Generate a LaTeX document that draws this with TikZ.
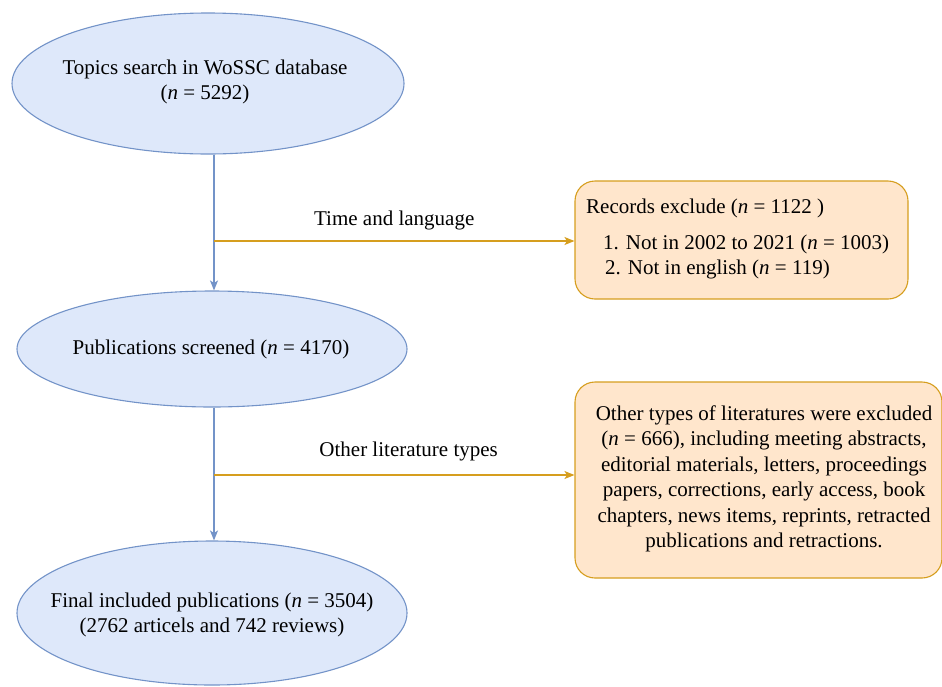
\documentclass[tikz,border=0pt]{standalone}
\usepackage{fontspec}
\setmainfont{Liberation Serif}
\usetikzlibrary{shapes.geometric,arrows.meta}
\definecolor{efill}{HTML}{DEE8FA}
\definecolor{edraw}{HTML}{7393C8}
\definecolor{bfill}{HTML}{FFE6CC}
\definecolor{bdraw}{HTML}{D69E1E}
\begin{document}
\begin{tikzpicture}[x=1pt,y=-1pt,
  oval/.style={ellipse,draw=edraw,fill=efill,line width=1.1pt,inner sep=0pt},
  txt/.style={inner sep=0pt,font=\fontsize{21}{25.5}\selectfont,align=center},
  exbox/.style={draw=bdraw,fill=bfill,line width=1.1pt,rounded corners=20pt,inner sep=0pt},
  vflow/.style={draw=edraw,line width=1.1pt,-{Stealth[length=10pt,width=8pt,inset=2.5pt]}},
  hflow/.style={draw=bdraw,line width=1.1pt,-{Stealth[length=10pt,width=8pt,inset=2.5pt]}},
  lbl/.style={inner sep=0pt,font=\fontsize{21}{25.5}\selectfont}]
\useasboundingbox (0,0) rectangle (942,686);
% ellipses
\node[oval,minimum width=392pt,minimum height=141pt] (e1) at (208,83.5) {};
\node[oval,minimum width=390pt,minimum height=116pt] (e2) at (212,349) {};
\node[oval,minimum width=390pt,minimum height=144pt] (e3) at (212,613) {};
\node[txt] (t1) at (205,82) {Topics search in WoSSC database\\(\textit{n} = 5292)};
\node[txt] (t2) at (211,349) {Publications screened (\textit{n} = 4170)};
\node[txt] (t3) at (212,615) {Final included publications (\textit{n} = 3504)\\(2762 articels and 742 reviews)};
% boxes
\node[exbox,minimum width=333pt,minimum height=118pt] (b1) at (741.5,240) {};
\node[exbox,minimum width=367pt,minimum height=196pt] (b2) at (758.5,480) {};
\node[lbl,anchor=base west] (b1a) at (586,213) {Records exclude (\textit{n} = 1122 )};
\node[lbl,anchor=base west] (b1b) at (603,249) {1. Not in 2002 to 2021 (\textit{n} = 1003)};
\node[lbl,anchor=base west] (b1c) at (605,274) {2. Not in english (\textit{n} = 119)};
\node[txt] (b2t) at (764,479) {Other types of literatures were excluded\\(\textit{n} = 666), including meeting abstracts,\\editorial materials, letters, proceedings\\ papers, corrections, early access, book\\chapters, news items, reprints, retracted\\publications and retractions.};
% connectors
\coordinate (v) at (214,0);
\draw[vflow] (e1.south -| v) -- (e2.north -| v);
\draw[vflow] (e2.south -| v) -- (e3.north -| v);
\coordinate (h1) at (214,241);
\coordinate (h2) at (214,475);
\draw[hflow] (h1) -- (h1 -| b1.west) node[lbl,midway,above=10pt] (l1) {Time and language};
\draw[hflow] (h2) -- (h2 -| b2.west) node[lbl,pos=0.54,above=13pt] (l2) {Other literature types};
\end{tikzpicture}
\end{document}
